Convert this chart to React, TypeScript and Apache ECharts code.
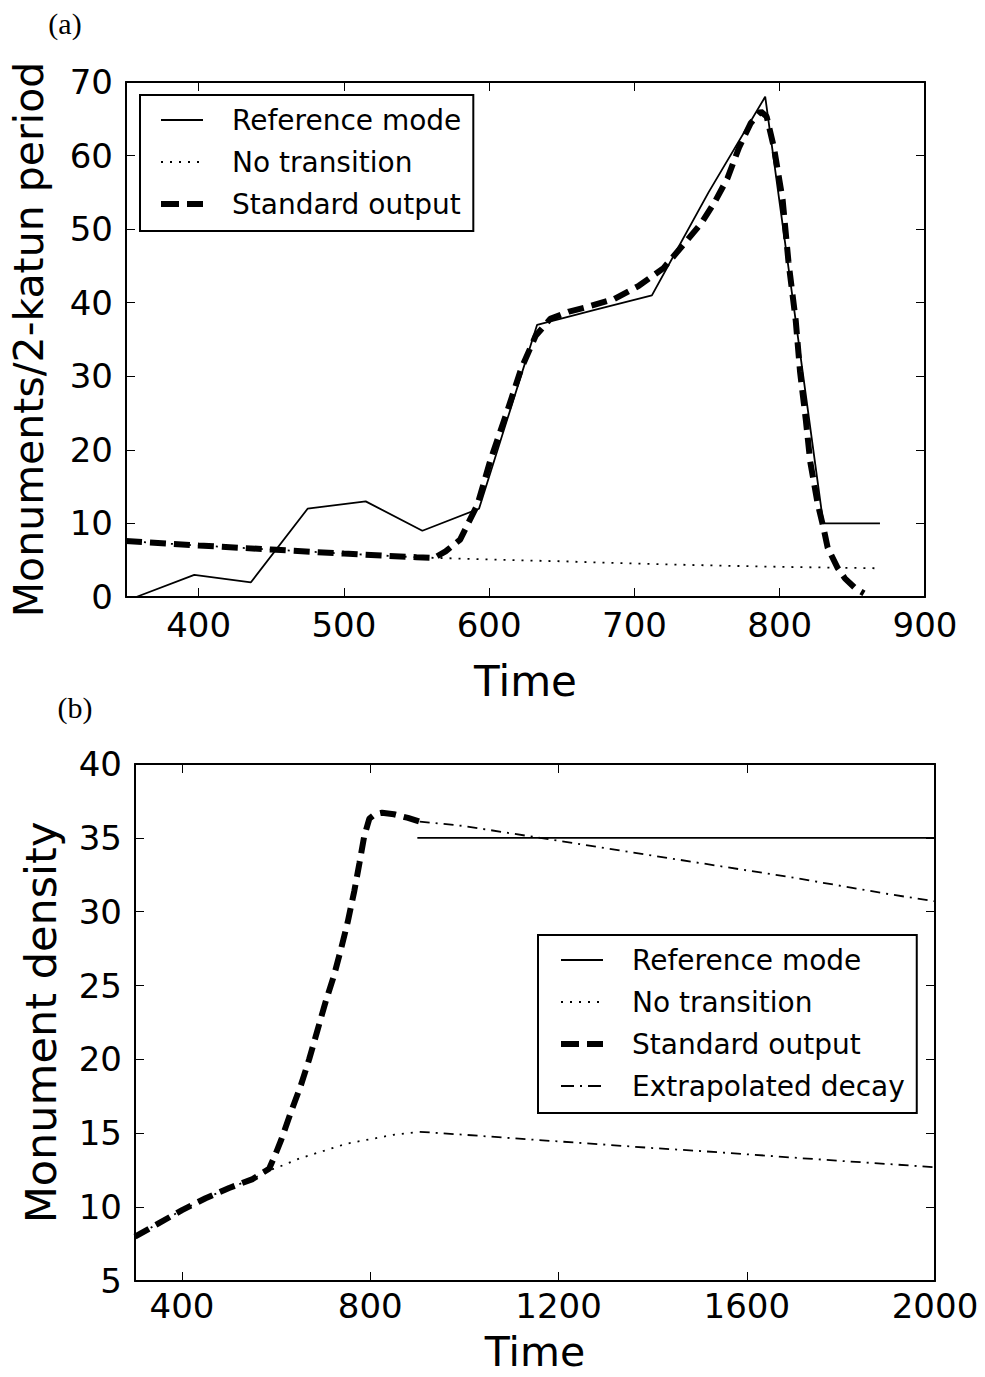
import React, { useEffect, useRef } from "react";
import * as echarts from "echarts";

// ---------- Panel (a) data ----------
const refTimeA = [357, 397, 436, 475, 515, 554, 593, 633, 672, 712, 751, 790, 830, 869];
const refValA = [0, 3, 2, 12, 13, 9, 12, 37, 39, 41, 55, 68, 10, 10];

const noTransTimeA = [350, 400, 450, 500, 550, 600, 650, 700, 750, 800, 869];
const noTransValA = [7.6, 7.0, 6.45, 5.9, 5.4, 5.1, 4.85, 4.55, 4.3, 4.1, 3.9];

const stdTimeA = [350, 400, 450, 500, 550, 562, 570, 580, 592, 601, 612, 622, 632, 642, 655, 667, 686, 703, 720, 732, 746, 755, 764, 772, 780, 787, 791, 796, 802, 806, 811, 814, 818, 821, 826, 830, 833, 840, 845, 852, 858];
const stdValA = [7.6, 7.0, 6.45, 5.9, 5.4, 5.3, 6.2, 7.8, 12.6, 18.7, 25, 31, 35.5, 37.8, 38.8, 39.4, 40.5, 42.3, 44.7, 47.5, 50.8, 53.6, 56.9, 61.1, 64.4, 66, 65.3, 61.1, 54, 45.6, 37.6, 30.6, 24, 18.4, 12.8, 9.5, 6.7, 3.9, 2.5, 1.2, 0.5];

const xTicksA = [400, 500, 600, 700, 800, 900];

// ---------- Panel (b) data ----------
const refTimeB = [900, 2000];
const refValB = [35, 35];

const noTransTimeB = [300, 350, 400, 450, 500, 550, 585, 600, 650, 700, 750, 800, 850, 905];
const noTransValB = [8.0, 8.9, 9.8, 10.6, 11.3, 11.9, 12.5, 12.65, 13.3, 13.8, 14.3, 14.6, 14.9, 15.1];

const stdTimeB = [300, 350, 400, 450, 500, 550, 585, 600, 610, 631, 652, 670, 688, 705, 723, 738, 752, 766, 777, 787, 798, 810, 825, 850, 880, 905];
const stdValB = [8.0, 8.9, 9.8, 10.6, 11.3, 11.9, 12.6, 13.7, 14.5, 16.4, 18.2, 20, 22, 23.9, 25.7, 27.5, 29.3, 31.4, 33.3, 35.1, 36.3, 36.6, 36.7, 36.6, 36.35, 36.1];

const decayTime = [905, 1000, 1100, 1200, 1300, 1400, 1500, 1600, 1700, 1800, 1900, 2000];
const decayStdVal = [36.1, 35.8, 35.3, 34.8, 34.3, 33.8, 33.3, 32.8, 32.3, 31.75, 31.2, 30.7];
const decayNoTransVal = [15.1, 14.9, 14.67, 14.45, 14.23, 14.0, 13.8, 13.58, 13.35, 13.13, 12.92, 12.7];

const xTicksB = [400, 800, 1200, 1600, 2000];

const legendNamesA = ["Reference mode", "No transition", "Standard output"];
const legendNamesB = ["Reference mode", "No transition", "Standard output", "Extrapolated decay"];

const zip = (xs: number[], ys: number[]) => xs.map((x, i) => [x, ys[i]]);

const FONT = "DejaVu Sans";

const solidStyle = { color: "#000", width: 1.8, type: "solid" as const };
const dottedStyle = { color: "#000", width: 1.8, type: [2, 7], cap: "butt" as const };
const dashedStyle = { color: "#000", width: 6, type: [16, 8], cap: "butt" as const };
const dashDotStyle = { color: "#000", width: 1.8, type: [10, 6, 2, 6], cap: "butt" as const };

const styleByName: Record<string, any> = {
  "Reference mode": solidStyle,
  "No transition": dottedStyle,
  "Standard output": { ...dashedStyle, type: [18, 8] },
  "Extrapolated decay": { ...dashDotStyle, type: [13, 6, 2, 6] },
};

function lineSeries(name: string, data: number[][], style: any, axis: number, z: number) {
  return {
    type: "line",
    name,
    data,
    xAxisIndex: axis,
    yAxisIndex: axis,
    symbol: "none",
    showSymbol: false,
    lineStyle: style,
    itemStyle: { color: "#000" },
    z,
    silent: true,
  };
}

function makeXAxes(grid: number, min: number, max: number, ticks: number[], margin: number, nameGap: number, nameSize: number, nameLH: number) {
  const common = {
    type: "value",
    gridIndex: grid,
    min,
    max,
    splitLine: { show: false },
    axisLine: { show: true, onZero: false, lineStyle: { color: "#000", width: 2 } },
    axisTick: { show: true, inside: true, length: 9, customValues: ticks, lineStyle: { color: "#000", width: 1 } },
  };
  return [
    {
      ...common,
      position: "bottom",
      name: "Time",
      nameLocation: "middle",
      nameGap,
      nameTextStyle: { fontFamily: FONT, fontSize: nameSize, lineHeight: nameLH, color: "#000" },
      axisLabel: {
        show: true,
        customValues: ticks,
        margin,
        fontFamily: FONT,
        fontSize: 34,
        color: "#000",
        formatter: (v: number) => String(v),
      },
    },
    {
      ...common,
      position: "top",
      axisLabel: { show: false },
    },
  ];
}

function makeYAxes(grid: number, min: number, max: number, interval: number, name: string, nameSize: number, nameGap: number) {
  const common = {
    type: "value",
    gridIndex: grid,
    min,
    max,
    interval,
    splitLine: { show: false },
    axisLine: { show: true, onZero: false, lineStyle: { color: "#000", width: 2 } },
    axisTick: { show: true, inside: true, length: 9, lineStyle: { color: "#000", width: 1 } },
  };
  return [
    {
      ...common,
      position: "left",
      name,
      nameLocation: "middle",
      nameGap,
      nameTextStyle: { fontFamily: FONT, fontSize: nameSize, color: "#000" },
      axisLabel: { show: true, margin: 13, fontFamily: FONT, fontSize: 34, color: "#000", formatter: (v: number) => String(v) },
    },
    {
      ...common,
      position: "right",
      axisLabel: { show: false },
    },
  ];
}

function legendBox(names: string[], left: number, top: number, padLeft: number) {
  return {
    show: true,
    data: names.map((n) => ({ name: n, lineStyle: { ...styleByName[n] } })),
    orient: "vertical",
    left,
    top,
    padding: [10, 12, 12, padLeft],
    itemGap: 12,
    itemWidth: 42,
    itemHeight: 14,
    backgroundColor: "#fff",
    borderColor: "#000",
    borderWidth: 2,
    borderRadius: 0,
    selectedMode: false,
    itemStyle: { opacity: 0 },
    lineStyle: { width: "inherit" },
    textStyle: { fontFamily: FONT, fontSize: 28, color: "#000", lineHeight: 30, padding: [0, 0, 0, 24] },
  };
}

export default function App() {
  const ref = useRef<HTMLDivElement>(null);
  useEffect(() => {
    if (!ref.current) return;
    const chart = echarts.init(ref.current, null, { renderer: "svg" });
    const xa = makeXAxes(0, 350, 900, xTicksA, 11, 66, 42, 36);
    const xb = makeXAxes(1, 300, 2000, xTicksB, 8, 55, 41, 32);
    const ya = makeYAxes(0, 0, 70, 10, "Monuments/2-katun period", 41, 77);
    const yb = makeYAxes(1, 5, 40, 5, "Monument density", 43, 73);
    const option: any = {
      animation: false,
      backgroundColor: "#fff",
      grid: [
        { left: 125, top: 82, width: 800, height: 515, containLabel: false },
        { left: 135, top: 764, width: 800, height: 517, containLabel: false },
      ],
      xAxis: [...xa, ...xb],
      yAxis: [...ya, ...yb],
      legend: [legendBox(legendNamesA, 140, 95, 18), legendBox(legendNamesB, 538, 935, 20)],
      graphic: [
        { type: "text", x: 65, y: 23, style: { text: "(a)", fontFamily: "Liberation Serif", fontSize: 30, fill: "#000", align: "center", verticalAlign: "middle" } },
        { type: "text", x: 75, y: 707, style: { text: "(b)", fontFamily: "Liberation Serif", fontSize: 30, fill: "#000", align: "center", verticalAlign: "middle" } },
      ],
      series: [
        lineSeries("No transition", zip(noTransTimeA, noTransValA), dottedStyle, 0, 2),
        lineSeries("Standard output", zip(stdTimeA, stdValA), dashedStyle, 0, 3),
        lineSeries("Reference mode", zip(refTimeA, refValA), solidStyle, 0, 4),
        lineSeries("No transition", zip(noTransTimeB, noTransValB), dottedStyle, 2, 2),
        lineSeries("Standard output", zip(stdTimeB, stdValB), dashedStyle, 2, 3),
        lineSeries("Reference mode", zip(refTimeB, refValB), solidStyle, 2, 4),
        lineSeries("Extrapolated decay", zip(decayTime, decayStdVal), dashDotStyle, 2, 2),
        lineSeries("Extrapolated decay", zip(decayTime, decayNoTransVal), dashDotStyle, 2, 2),
      ],
    };
    chart.setOption(option);
    return () => chart.dispose();
  }, []);
  return (
    <div
      ref={ref}
      style={{ position: "absolute", left: 0, top: 0, width: 985, height: 1377, background: "#fff" }}
    />
  );
}
